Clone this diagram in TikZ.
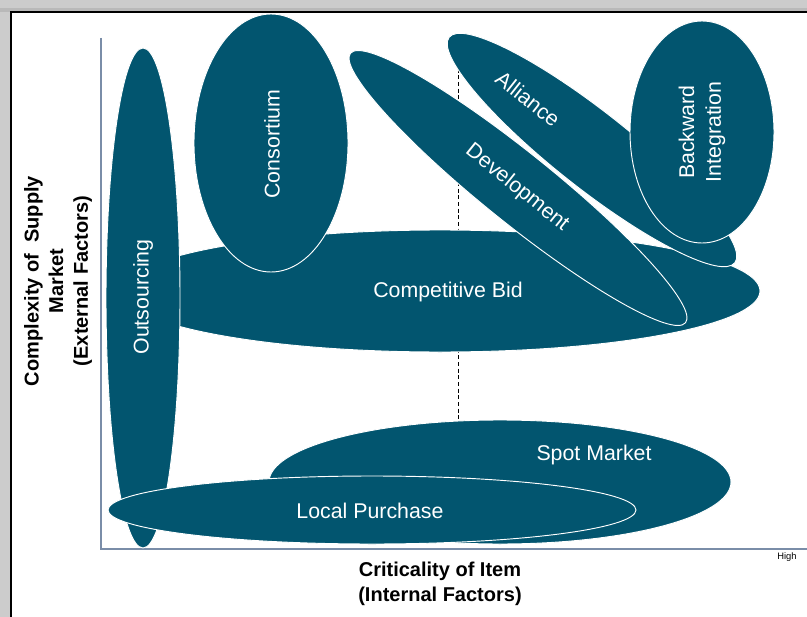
\documentclass[tikz,border=0pt]{standalone}
\usepackage{fontspec}
\setmainfont{Liberation Sans}
\usetikzlibrary{shapes.geometric}
\definecolor{petrol}{HTML}{02556F}
\definecolor{axisblue}{HTML}{7A8DA8}
\tikzset{
	blob/.style={ellipse, fill=petrol, draw=white, line width=0.7pt, inner sep=0pt, outer sep=0pt},
	blobtext/.style={text=white, font=\fontsize{16}{20}\selectfont, align=center},
	axistext/.style={font=\bfseries\fontsize{15}{18.5}\selectfont, align=center}
}
\begin{document}
\begin{tikzpicture}[x=0.75pt, y=-0.75pt]
			\useasboundingbox (0, 0) rectangle (807, 617);
			% window frame
			\fill[gray!40] (0, 0) rectangle (807, 617);
			\fill[gray!55] (0, 8) rectangle (807, 12);
			\fill[white] (11, 12) rectangle (807, 617);
			\draw[black, line width=1.2pt] (11, 617) -- (11, 12) -- (807, 12);
			% axes
			\coordinate (top) at (101, 38);
			\coordinate (origin) at (101, 549);
			\coordinate (right) at (807, 549);
			\draw[axisblue, line width=0.9pt] (top) -- (origin) -- (right);
			\coordinate (mid top) at (458, 62);
			\coordinate (mid bottom) at (458, 420);
			\draw[black, line width=0.7pt, dash pattern=on 3pt off 2pt] (mid top) -- (mid bottom);
			% sourcing options, back to front
			\node[blob, minimum width=480pt, minimum height=91.5pt] (bid) at (440, 291) {};
			\node[blob, minimum width=55.5pt, minimum height=375pt] (outsourcing) at (143, 298) {};
			\node[blob, minimum width=115.5pt, minimum height=193.5pt] (consortium) at (271, 143) {};
			\node[blob, minimum width=322.5pt, minimum height=52.5pt, rotate=-38.8] (development) at (518, 188) {};
			\node[blob, minimum width=273pt, minimum height=57pt, rotate=-38.3] (alliance) at (592, 150) {};
			\node[blob, minimum width=108pt, minimum height=166.5pt] (backward) at (702, 132) {};
			\node[blob, minimum width=346.5pt, minimum height=93pt] (spot) at (500, 482) {};
			\node[blob, minimum width=396pt, minimum height=51pt] (local) at (372, 510) {};
			% labels
			\node[blobtext] (bid label) at (448, 292) {Competitive Bid};
			\node[blobtext, rotate=90] (outsourcing label) at (143, 297) {Outsourcing};
			\node[blobtext, rotate=90] (consortium label) at (272, 144) {Consortium};
			\node[blobtext, rotate=-38.8] (development label) at (517, 188) {Development};
			\node[blobtext, rotate=-38.3] (alliance label) at (528, 99) {Alliance};
			\node[blobtext, rotate=90] (backward label) at (702, 132) {Backward\\Integration};
			\node[blobtext] (spot label) at (594, 455) {Spot Market};
			\node[blobtext] (local label) at (370, 511) {Local Purchase};
			% axis titles
			\node[axistext] (x title) at (440, 584) {Criticality of Item\\(Internal Factors)};
			\node[axistext, rotate=90] (y title) at (58, 281) {Complexity of\ \ Supply\\Market\\(External Factors)};
			\node[font=\fontsize{7}{8}\selectfont] (high) at (787, 557) {High};
		\end{tikzpicture}
\end{document}
